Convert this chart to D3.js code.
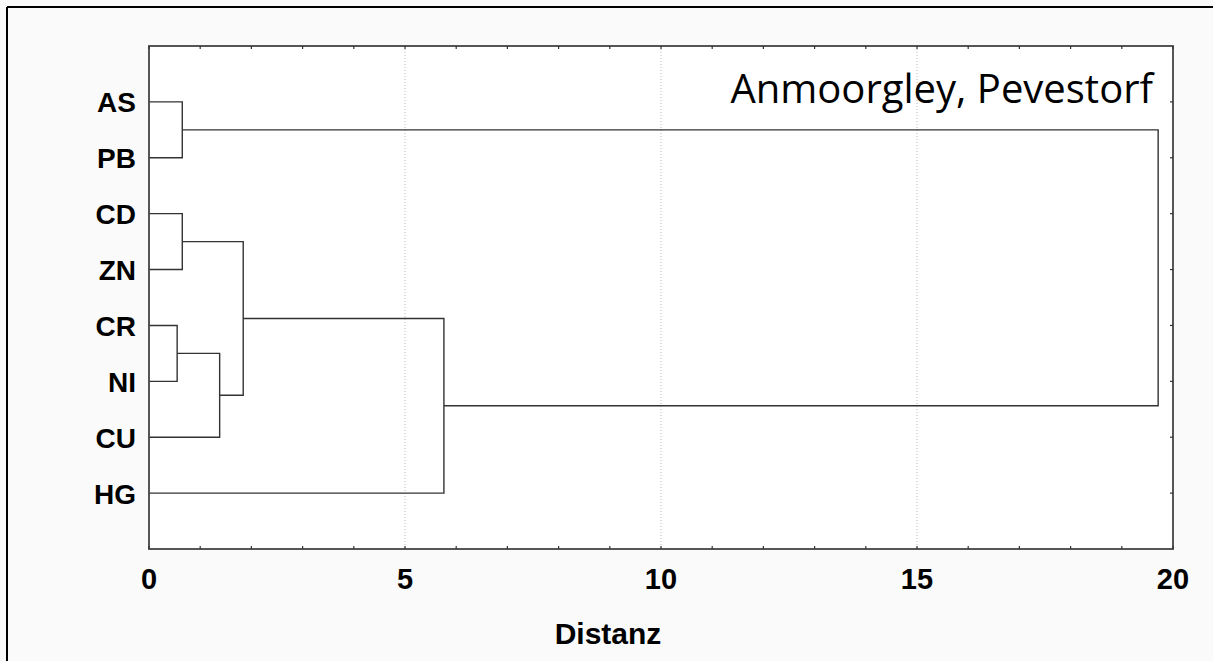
<!DOCTYPE html>
<html><head><meta charset="utf-8">
<script src="https://cdn.jsdelivr.net/npm/d3@7"></script>
<style>
html,body{margin:0;padding:0;background:#fafafa;}
svg{display:block;}
</style></head>
<body>
<svg id="chart" width="1213" height="661"></svg>
<script>
// Leaves (top to bottom)
const labels = ["AS","PB","CD","ZN","CR","NI","CU","HG"];
// Linkage: cluster ids 0..7 are leaves, 8.. are merges in this order
const mergeLeft  = [0, 2, 4, 10, 9, 12, 8];
const mergeRight = [1, 3, 5, 6, 11, 7, 13];
const mergeDist  = [0.65, 0.65, 0.55, 1.38, 1.84, 5.76, 19.71];
const xTicks = [0, 5, 10, 15, 20];
const xMinor = d3.range(0, 21, 1);
const xTitle = "Distanz";
const chartTitle = "Anmoorgley, Pevestorf";

const svg = d3.select("#chart");
const L = 149, R = 1173, T = 46, B = 549;

// outer frame (top & left visible)
svg.append("line").attr("x1",7).attr("x2",1213).attr("y1",7).attr("y2",7).attr("stroke","#000").attr("stroke-width",2);
svg.append("line").attr("x1",7).attr("x2",7).attr("y1",7).attr("y2",661).attr("stroke","#000").attr("stroke-width",2);

const x = d3.scaleLinear().domain([0,20]).range([L,R]);
const y = d3.scaleLinear().domain([0, labels.length + 1]).range([T,B]);

svg.append("rect").attr("x",L).attr("y",T).attr("width",R-L).attr("height",B-T).attr("fill","#fff");

// grid
svg.append("g").selectAll("line").data(xTicks.filter(d=>d>0&&d<20)).join("line")
  .attr("x1",d=>x(d)).attr("x2",d=>x(d)).attr("y1",T).attr("y2",B)
  .attr("stroke","#bbb").attr("stroke-width",1).attr("stroke-dasharray","1,2");

// dendrogram
const nodeX = labels.map(()=>0);
const nodeY = labels.map((d,i)=>y(i+1));
const dg = svg.append("g").attr("fill","none").attr("stroke","#333").attr("stroke-width",1.4);
mergeLeft.forEach((a,k)=>{
  const b = mergeRight[k], h = mergeDist[k];
  const xa = x(nodeX[a]), xb = x(nodeX[b]), xh = x(h);
  const ya = nodeY[a], yb = nodeY[b];
  dg.append("path").attr("d",`M${xa},${ya}H${xh}V${yb}H${xb}`);
  nodeX.push(h);
  nodeY.push((ya+yb)/2);
});

// frame
svg.append("rect").attr("x",L).attr("y",T).attr("width",R-L).attr("height",B-T)
  .attr("fill","none").attr("stroke","#444").attr("stroke-width",1.8);

// ticks
const tk = svg.append("g").attr("stroke","#333").attr("stroke-width",1.2);
xMinor.forEach(v=>{
  tk.append("line").attr("x1",x(v)).attr("x2",x(v)).attr("y1",B).attr("y2",B-3);
  tk.append("line").attr("x1",x(v)).attr("x2",x(v)).attr("y1",T).attr("y2",T+3);
});
labels.forEach((d,i)=>{
  tk.append("line").attr("x1",R).attr("x2",R-3).attr("y1",y(i+1)).attr("y2",y(i+1));
});

// axis labels
const bold = "'Liberation Sans', Arial, sans-serif";
svg.append("g").selectAll("text").data(xTicks).join("text")
  .attr("x",d=>x(d)).attr("y",589).attr("text-anchor","middle")
  .attr("font-family",bold).attr("font-weight","bold").attr("font-size",29).attr("fill","#000")
  .text(d=>d);
svg.append("g").selectAll("text").data(labels).join("text")
  .attr("x",136).attr("y",(d,i)=>y(i+1)+10.5).attr("text-anchor","end")
  .attr("font-family",bold).attr("font-weight","bold").attr("font-size",28).attr("fill","#000")
  .text(d=>d);
svg.append("text").attr("x",608).attr("y",644).attr("text-anchor","middle")
  .attr("font-family",bold).attr("font-weight","bold").attr("font-size",30).attr("fill","#000")
  .text(xTitle);

svg.append("text").attr("x",1153).attr("y",103).attr("text-anchor","end")
  .attr("font-family","'Open Sans', sans-serif").attr("font-size",40).attr("fill","#000")
  .text(chartTitle);
</script>
</body></html>
